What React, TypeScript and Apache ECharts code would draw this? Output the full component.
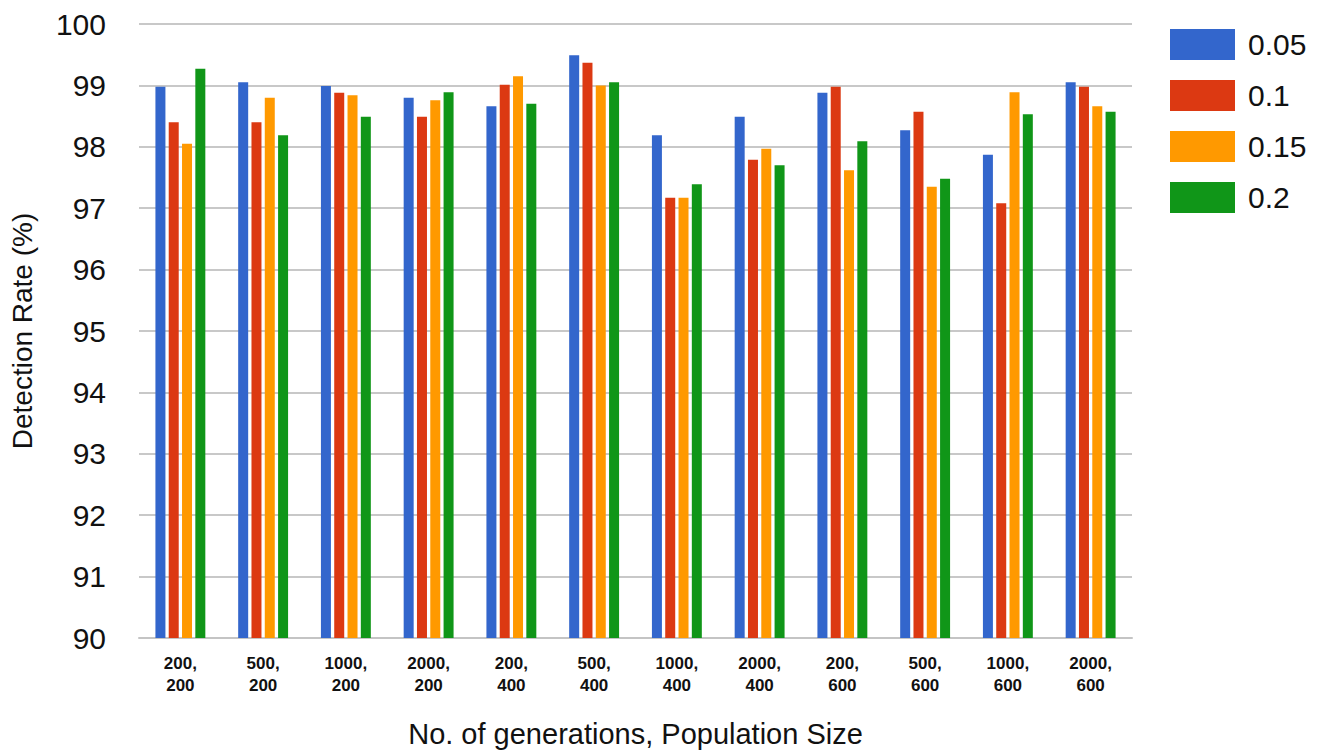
import React, { useEffect, useRef } from "react";
import * as echarts from "echarts";

const categories = [
  "200,\n200", "500,\n200", "1000,\n200", "2000,\n200",
  "200,\n400", "500,\n400", "1000,\n400", "2000,\n400",
  "200,\n600", "500,\n600", "1000,\n600", "2000,\n600",
];
const seriesNames = ["0.05", "0.1", "0.15", "0.2"];
const colors = ["#3366cc", "#dc3912", "#ff9900", "#109618"];
const s005 = [98.98, 99.05, 98.99, 98.8, 98.66, 99.49, 98.19, 98.49, 98.88, 98.27, 97.87, 99.05];
const s01 = [98.4, 98.4, 98.88, 98.49, 99.01, 99.37, 97.17, 97.79, 98.98, 98.57, 97.08, 98.98];
const s015 = [98.05, 98.8, 98.84, 98.76, 99.15, 99.0, 97.17, 97.97, 97.62, 97.35, 98.89, 98.66];
const s02 = [99.27, 98.19, 98.49, 98.89, 98.7, 99.05, 97.39, 97.7, 98.09, 97.48, 98.53, 98.57];
const allSeries = [s005, s01, s015, s02];

export default function App() {
  const ref = useRef<HTMLDivElement>(null);
  useEffect(() => {
    const chart = echarts.init(ref.current!, null, { renderer: "svg" });
    chart.setOption({
      animation: false,
      backgroundColor: "#ffffff",
      textStyle: { fontFamily: "Liberation Sans, Arial, sans-serif" },
      grid: { left: 135, right: 191, top: 24, bottom: 116, containLabel: false },
      legend: {
        orient: "vertical",
        left: 1165,
        top: 24,
        itemWidth: 65,
        itemHeight: 31,
        itemGap: 20,
        icon: "rect",
        textStyle: { fontSize: 30, color: "#111", padding: [0, 0, 0, 8] },
        data: seriesNames,
      },
      xAxis: {
        type: "category",
        data: categories,
        axisLine: { show: true, lineStyle: { color: "#c4c4c4", width: 2 } },
        axisTick: { show: false },
        axisLabel: {
          fontSize: 17,
          fontWeight: "bold",
          color: "#111",
          lineHeight: 22,
          margin: 14,
          interval: 0,
        },
        name: "No. of generations, Population Size",
        nameLocation: "middle",
        nameGap: 81,
        nameTextStyle: { fontSize: 29, color: "#111" },
      },
      yAxis: {
        type: "value",
        min: 90,
        max: 100,
        interval: 1,
        axisLine: { show: false },
        axisTick: { show: false },
        axisLabel: { fontSize: 30, color: "#111", margin: 33 },
        splitLine: { lineStyle: { color: "#c8c8c8", width: 2 } },
        name: "Detection Rate (%)",
        nameLocation: "middle",
        nameGap: 103,
        nameRotate: 90,
        nameTextStyle: { fontSize: 28, color: "#111" },
      },
      series: allSeries.map((d, i) => ({
        name: seriesNames[i],
        type: "bar",
        data: d,
        barWidth: 10,
        barGap: "33%",
        itemStyle: { color: colors[i] },
      })),
    });
    return () => chart.dispose();
  }, []);
  return (
    <div
      ref={ref}
      style={{ position: "fixed", left: 0, top: 0, width: 1323, height: 754, background: "#fff" }}
    />
  );
}
